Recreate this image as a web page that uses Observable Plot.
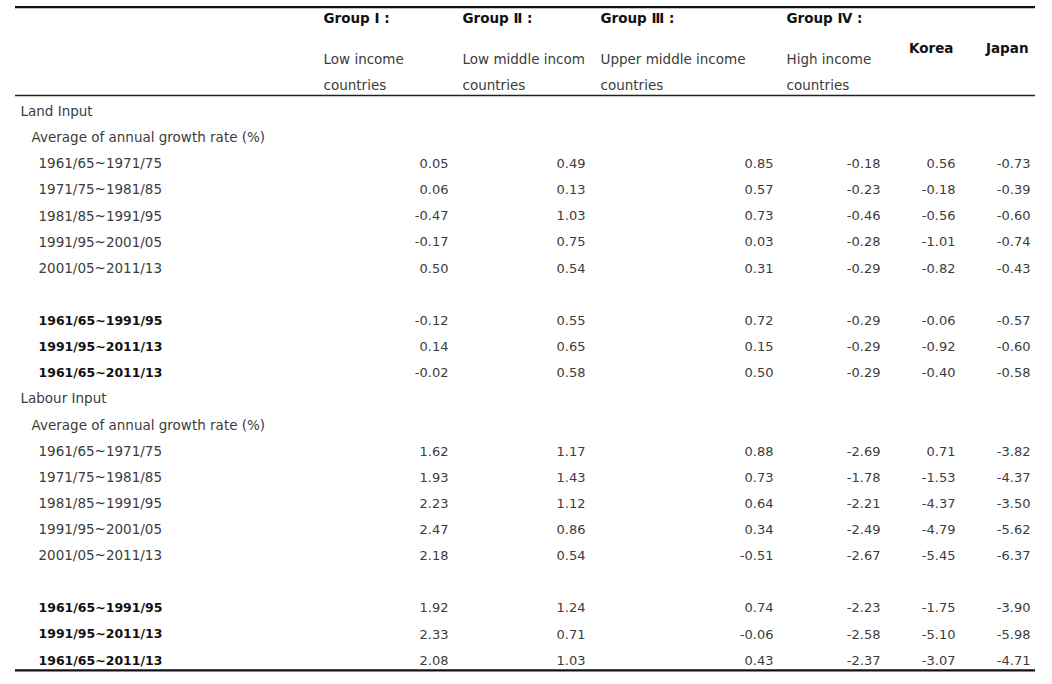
<!DOCTYPE html>
<html><head><meta charset="utf-8">
<script src="https://cdn.jsdelivr.net/npm/d3@7"></script>
<script src="https://cdn.jsdelivr.net/npm/@observablehq/plot@0.6"></script>
<style>html,body{margin:0;padding:0;background:#fff}</style>
</head><body><div id="chart"></div>
<script>
// ---- data ----
const groupTitles = ["Group I :", "Group Ⅱ :", "Group Ⅲ :", "Group Ⅳ :"];
const groupLine1 = ["Low income", "Low middle incom", "Upper middle income", "High income"];
const groupLine2 = ["countries", "countries", "countries", "countries"];
const countryNames = ["Korea", "Japan"];
const sectionNames = ["Land Input", "Labour Input"];
const subHeading = "Average of annual growth rate (%)";
const periods = ["1961/65~1971/75", "1971/75~1981/85", "1981/85~1991/95", "1991/95~2001/05", "2001/05~2011/13"];
const summaryPeriods = ["1961/65~1991/95", "1991/95~2011/13", "1961/65~2011/13"];
// columns: Group I, II, III, IV, Korea, Japan
const landPeriodValues = [
  [0.05, 0.49, 0.85, -0.18, 0.56, -0.73],
  [0.06, 0.13, 0.57, -0.23, -0.18, -0.39],
  [-0.47, 1.03, 0.73, -0.46, -0.56, -0.60],
  [-0.17, 0.75, 0.03, -0.28, -1.01, -0.74],
  [0.50, 0.54, 0.31, -0.29, -0.82, -0.43]
];
const landSummaryValues = [
  [-0.12, 0.55, 0.72, -0.29, -0.06, -0.57],
  [0.14, 0.65, 0.15, -0.29, -0.92, -0.60],
  [-0.02, 0.58, 0.50, -0.29, -0.40, -0.58]
];
const labourPeriodValues = [
  [1.62, 1.17, 0.88, -2.69, 0.71, -3.82],
  [1.93, 1.43, 0.73, -1.78, -1.53, -4.37],
  [2.23, 1.12, 0.64, -2.21, -4.37, -3.50],
  [2.47, 0.86, 0.34, -2.49, -4.79, -5.62],
  [2.18, 0.54, -0.51, -2.67, -5.45, -6.37]
];
const labourSummaryValues = [
  [1.92, 1.24, 0.74, -2.23, -1.75, -3.90],
  [2.33, 0.71, -0.06, -2.58, -5.10, -5.98],
  [2.08, 1.03, 0.43, -2.37, -3.07, -4.71]
];

// ---- layout (scale definitions) ----
const xKeys = ["label", "g1h", "g1v", "g2h", "g2v", "g3h", "g3v", "g4h", "g4v", "korea", "japan"];
const xPixels = [38, 323, 448, 462, 585, 600, 773, 786, 880, 955, 1030];
const valueKeys = ["g1v", "g2v", "g3v", "g4v", "korea", "japan"];
const headKeys = ["g1h", "g2h", "g3h", "g4h"];
const xi = k => xKeys.indexOf(k);

// ---- build rows ----
const rows = [];
let r = 1;
const blocks = [[sectionNames[0], landPeriodValues, landSummaryValues], [sectionNames[1], labourPeriodValues, labourSummaryValues]];
for (const [name, pv, sv] of blocks) {
  rows.push({row: r++, kind: "section", label: name});
  rows.push({row: r++, kind: "sub", label: subHeading});
  periods.forEach((p, i) => rows.push({row: r++, kind: "period", label: p, values: pv[i]}));
  r++; // blank row
  summaryPeriods.forEach((p, i) => rows.push({row: r++, kind: "summary", label: p, values: sv[i]}));
}
const cells = rows.filter(d => d.values).flatMap(d => d.values.map((v, j) => ({row: d.row, col: valueKeys[j], text: v.toFixed(2), bold: d.kind === "summary"})));

const headers = [
  ...groupTitles.map((t, j) => ({col: headKeys[j], row: -2.55, text: t, bold: true})),
  ...groupLine1.map((t, j) => ({col: headKeys[j], row: -1, text: t, bold: false})),
  ...groupLine2.map((t, j) => ({col: headKeys[j], row: 0, text: t, bold: false}))
];
const countryHeads = countryNames.map((t, j) => ({col: valueKeys[4 + j], row: -1.4, text: t}));

const font = "DejaVu Sans";
const txt = "#3c3c3c";

const chart = Plot.plot({
  width: 1052,
  height: 684,
  marginLeft: 15, marginRight: 17, marginTop: 0, marginBottom: 0,
  x: {type: "linear", domain: xKeys.map((_, i) => i), range: xPixels, axis: null},
  y: {type: "linear", domain: [0, 22], range: [85, 660], axis: null},
  style: {fontFamily: font, fontSize: "13.5px", background: "#fff", color: txt},
  marks: [
    Plot.ruleY([-3, 22.38], {stroke: "#111", strokeWidth: 2.2}),
    Plot.ruleY([0.38], {stroke: "#222", strokeWidth: 1.4}),
    // header
    Plot.text(headers.filter(d => d.bold), {x: d => xi(d.col), y: "row", text: "text", textAnchor: "start", fontWeight: "bold", fill: "#111", fontSize: 13.5}),
    Plot.text(headers.filter(d => !d.bold), {x: d => xi(d.col), y: "row", text: "text", textAnchor: "start", fill: txt, fontSize: 13.5}),
    Plot.text(countryHeads, {x: d => xi(d.col), y: "row", text: "text", textAnchor: "end", dx: -2, fontWeight: "bold", fill: "#111", fontSize: 13.5}),
    // row labels
    Plot.text(rows.filter(d => d.kind === "section"), {x: () => xi("label"), y: "row", text: "label", textAnchor: "start", dx: -18, fill: txt}),
    Plot.text(rows.filter(d => d.kind === "sub"), {x: () => xi("label"), y: "row", text: "label", textAnchor: "start", dx: -7, fill: txt}),
    Plot.text(rows.filter(d => d.kind === "period"), {x: () => xi("label"), y: "row", text: "label", textAnchor: "start", fill: txt}),
    Plot.text(rows.filter(d => d.kind === "summary"), {x: () => xi("label"), y: "row", text: "label", textAnchor: "start", fontWeight: "bold", fill: "#111", fontSize: 12.5}),
    // values
    Plot.text(cells, {x: d => xi(d.col), y: "row", text: "text", textAnchor: "end", fill: txt, fontSize: 13})
  ]
});
document.getElementById("chart").append(chart);
</script>
</body></html>
